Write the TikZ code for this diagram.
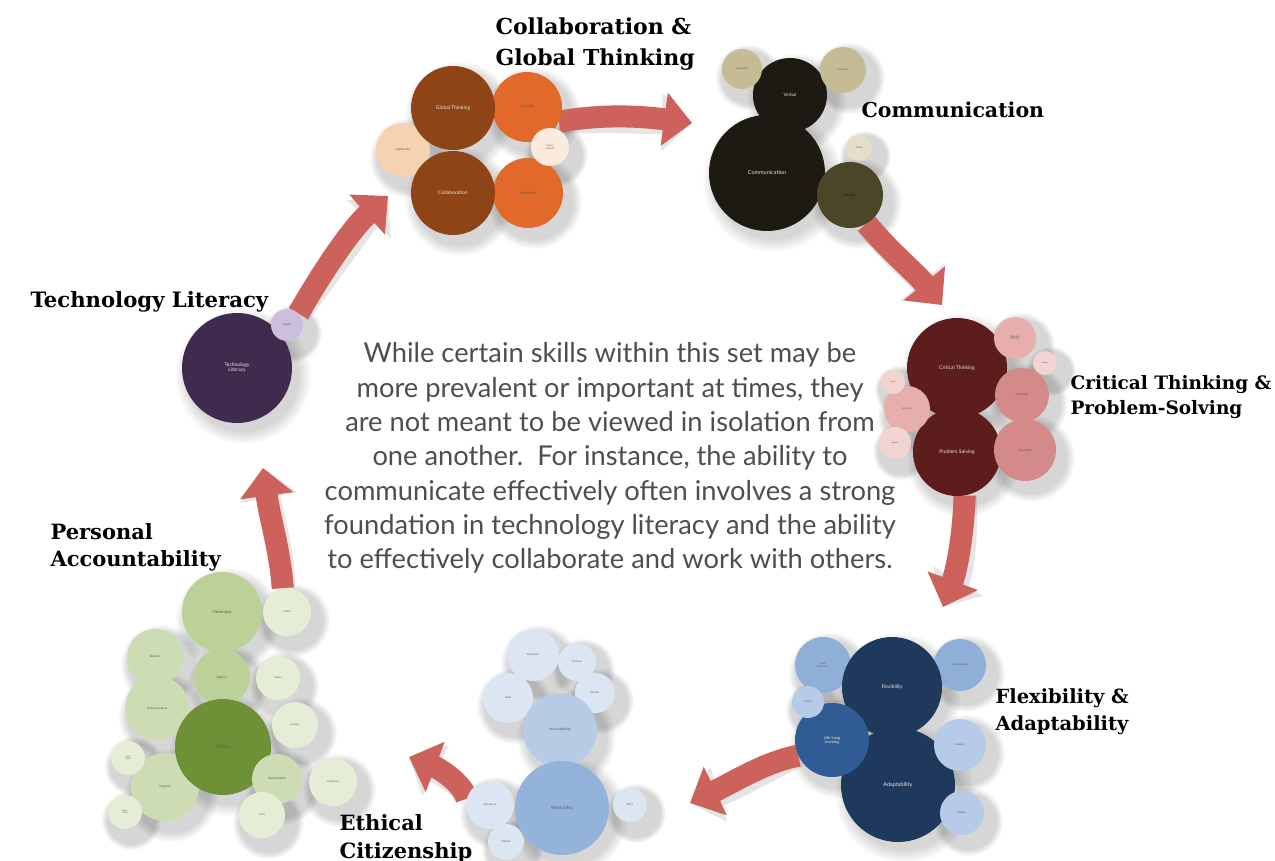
\documentclass[tikz,border=0pt]{standalone}
\usepackage{fontspec}
\setmainfont{Lato}
\newfontfamily\bubfont{Lato}
\newfontfamily\headfont{DejaVu Serif}
\usetikzlibrary{arrows.meta,fadings}

% palette
\definecolor{arrowred}{HTML}{CD615C}
\definecolor{notegray}{HTML}{4E4E4E}
\definecolor{colBrown}{HTML}{8E4416}
\definecolor{colOrange}{HTML}{E2692A}
\definecolor{colLight}{HTML}{F6D3B0}
\definecolor{colPale}{HTML}{FBEBDD}
\definecolor{comDark}{HTML}{1D1913}
\definecolor{comSand}{HTML}{C5BC95}
\definecolor{comOlive}{HTML}{4C4629}
\definecolor{comPale}{HTML}{E4DFC8}
\definecolor{ctDark}{HTML}{5D1D1C}
\definecolor{ctMid}{HTML}{D48A88}
\definecolor{ctLight}{HTML}{E6AEAC}
\definecolor{ctPale}{HTML}{F1D3D2}
\definecolor{flDark}{HTML}{1F395C}
\definecolor{flMid}{HTML}{2F5C95}
\definecolor{flLight}{HTML}{8FAFD9}
\definecolor{flPale}{HTML}{B6CBE8}
\definecolor{weDark}{HTML}{94B3DA}
\definecolor{weMid}{HTML}{B8CBE5}
\definecolor{weLight}{HTML}{DCE5F2}
\definecolor{paDark}{HTML}{6E9037}
\definecolor{paMid}{HTML}{BCD198}
\definecolor{paLight}{HTML}{CEDCB4}
\definecolor{paPale}{HTML}{E5EDD6}
\definecolor{teDark}{HTML}{3E2B4E}
\definecolor{tePale}{HTML}{CBBFDD}
\definecolor{wt}{HTML}{E9E4DE}
\definecolor{dk}{HTML}{5A5A5A}

\pgfdeclarelayer{shadow}
\pgfdeclarelayer{arrows}
\pgfsetlayers{shadow,arrows,main}

\begin{document}
\begin{tikzpicture}[x=1pt,y=-1pt,
  bubble/.style={circle, inner sep=0pt, align=center},
  lab/.style={font=\bubfont\fontsize{#1}{#1}\selectfont},
  flow/.style={draw=arrowred, line width=22pt, -{Triangle[width=52pt,length=28pt]}},
  flowshadow/.style={draw=black, opacity=0.10, line width=24pt,
    -{Triangle[width=56pt,length=30pt]}, shift={(4,6)}},
  headfont/.style 2 args={font=\headfont\bfseries\fontsize{#1}{#2}\selectfont},
  head/.style={align=left, anchor=base west, text=black},
  note/.style={align=center, text=notegray, font=\fontsize{27.3}{34.3}\selectfont}
]
\useasboundingbox (0,0) rectangle (1275,861);

% skill bubbles: name / x / y / radius / fill / text colour / label size / label
\foreach \n/\x/\y/\r/\f/\t/\s/\l in {
  leader/403/150/27/colLight/dk/3/Leadership,
  divers/527/107/35/colOrange/dk/3.5/Diversity,
  team/528/193/35/colOrange/dk/3.5/Teamwork,
  cross/550/147/19/colPale/dk/2.5/Cross-\\cultural,
  global/453/108/42/colBrown/wt/5/Global Thinking,
  collab/453/193/42/colBrown/wt/5/Collaboration,
  verbal/790/95/37/comDark/wt/4.5/Verbal,
  commu/767/173/58/comDark/wt/5.5/Communication,
  nonverb/742/69/20/comSand/dk/2.5/Nonverbal,
  listen/843/70/23/comSand/dk/2.5/Listening,
  written/850/195/33/comOlive/comDark/3/Written,
  visual/859/148/13/comPale/dk/2.5/Visual,
  ct/957/368/50/ctDark/wt/5/Critical Thinking,
  ps/957/452/44/ctDark/wt/5/Problem Solving,
  decide/1015/338/21/ctLight/dk/2.5/Decision\\Making,
  inquiry/1045/363/12/ctPale/dk/2/Inquiry,
  creat/1022/395/27/ctMid/dk/3/Creativity,
  innov/1025/450/31/ctMid/dk/3/Innovation,
  analys/907/409/23/ctLight/dk/2.5/Analysis,
  logic/893/382/12/ctPale/dk/2/Logic,
  reason/895/443/16/ctPale/dk/2/Reason,
  selfaw/823/665/28/flLight/dk/2.5/Self-\\Awareness,
  openm/960/665/26/flLight/dk/2.5/Open-Minded,
  flex/892/687/50/flDark/wt/5/Flexibility,
  adapt/898/785/57/flDark/wt/5.5/Adaptability,
  curio/960/745/26/flPale/dk/2.5/Curiosity,
  initi/962/813/22/flPale/dk/2.5/Initiative,
  lll/832/740/37/flMid/wt/4/Life-Long\\Learning,
  vision/808/702/16/flPale/dk/2.5/Vision,
  motiv/533/655/26/weLight/dk/2.5/Motivation,
  punct/577/662/19/weLight/dk/2.5/Punctual,
  goals/508/698/25/weLight/dk/2.5/Goals,
  reliab/595/693/20/weLight/dk/2.5/Reliable,
  accnt/560/730/37/weMid/dk/3.5/Accountability,
  wethic/562/808/47/weDark/dk/4.5/Work Ethic,
  effort/630/805/17/weLight/dk/2.5/Effort,
  attit/490/805/24/weLight/dk/2.5/Attendance,
  perse/506/842/18/weLight/dk/2.5/Patience,
  cit/222/612/40/paMid/dk/4/Citizenship,
  civil/287/612/24/paPale/dk/2.5/Civility,
  respect/155/657/28/paLight/dk/3/Respect,
  balance/222/677/28/paMid/dk/3/Balance,
  values/278/678/22/paPale/dk/2.5/Values,
  prof/157/708/32/paLight/dk/3/Professionalism,
  integ/165/787/34/paLight/dk/3/Integrity,
  ethics/223/747/48/paDark/dk/5/Ethics,
  honest/295/725/23/paPale/dk/2.5/Honesty,
  selfw/128/758/17/paPale/dk/2/Self-\\Worth,
  openmind/125/812/17/paPale/dk/2/Open\\Mind,
  depend/277/779/25/paLight/dk/3/Dependability,
  leader2/333/782/24/paPale/dk/2.5/Leadership,
  trust/262/815/23/paPale/dk/2.5/Trust,
  techlit/237/368/55/teDark/wt/5/Technology\\Literacy,
  digital/287/325/16/tePale/dk/2.5/Digital%
}{
  \begin{pgfonlayer}{shadow}
    \fill[black, opacity=0.16, path fading=circle with fuzzy edge 20 percent]
      (\x+6,\y+8) circle[radius=\r+13];
  \end{pgfonlayer}
  \node[bubble, minimum size={2*\r*1pt}, fill=\f, text=\t, lab=\s] (\n) at (\x,\y) {\l};
}

% free ends of the flow arrows
\coordinate (tipA) at (692,123);
\coordinate (tipB) at (942,305);
\coordinate (tipC) at (943,607);
\coordinate (tipD) at (690,803);
\coordinate (tipE) at (409,757);
\coordinate (tipF) at (263,468);
\coordinate (tipG) at (388,196);

\begin{pgfonlayer}{arrows}
  \foreach \sty in {flowshadow,flow}{
    \draw[\sty] (divers.-25) .. controls (600,114) and (640,116) .. (tipA);
    \draw[\sty] (written.-60) .. controls (888,250) and (915,272) .. (tipB);
    \draw[\sty] (ps.-80) .. controls (963,540) and (956,572) .. (tipC);
    \draw[\sty] (lll.205) .. controls (765,762) and (732,783) .. (tipD);
    \draw[\sty] (attit.165) .. controls (462,782) and (438,768) .. (tipE);
    \draw[\sty] (civil.100) .. controls (280,550) and (270,520) .. (tipF);
    \draw[\sty] (digital.45) .. controls (322,272) and (352,228) .. (tipG);
  }
\end{pgfonlayer}

% group titles (anchored at the baseline of their last line)
\node[head, headfont={22}{31}] (hcol) at (492,66) {Collaboration \&\\Global Thinking};
\node[head, headfont={20.5}{28}] (hcom) at (858,118) {Communication};
\node[head, headfont={18.5}{25}] (hct) at (1067,414) {Critical Thinking \&\\Problem-Solving};
\node[head, headfont={19.5}{27}] (hfl) at (992,730) {Flexibility \&\\Adaptability};
\node[head, headfont={21}{28}] (het) at (336,858) {Ethical\\Citizenship};
\node[head, headfont={21}{27}] (hpa) at (47,566) {Personal\\Accountability};
\node[head, headfont={21.2}{28}] (hte) at (27,308) {Technology Literacy};

% central note
\node[note] (note) at (610,458) {While certain skills within this set may be\\
more prevalent or important at times, they\\
are not meant to be viewed in isolation from\\
one another.\ \ For instance, the ability to\\
communicate effectively often involves a strong\\
foundation in technology literacy and the ability\\
to effectively collaborate and work with others.};
\end{tikzpicture}
\end{document}
